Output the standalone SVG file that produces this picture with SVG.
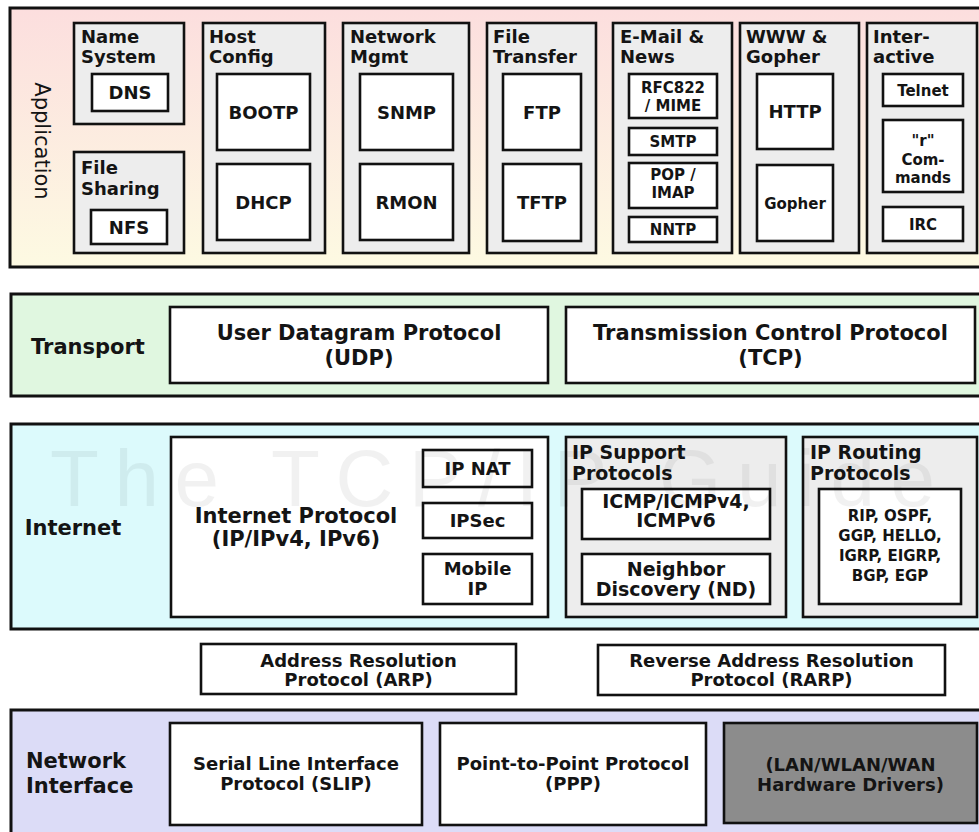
<svg xmlns="http://www.w3.org/2000/svg" width="979" height="832" viewBox="0 0 979 832">
<defs>
<linearGradient id="appGrad" x1="0" y1="0" x2="0" y2="1">
<stop offset="0" stop-color="#fcdede"/>
<stop offset="1" stop-color="#fdfae2"/>
</linearGradient>
</defs>
<style>
.layer{stroke:#111;stroke-width:3}
.grp{fill:#ededed;stroke:#111;stroke-width:2.6}
.box{fill:#fff;stroke:#111;stroke-width:2.6}
.hw{fill:#8c8c8c;stroke:#111;stroke-width:2.6}
text{font-family:"DejaVu Sans",Verdana,sans-serif;font-weight:bold;fill:#141414}
.c{text-anchor:middle}
.s21{font-size:21px}
.s19{font-size:19px}
.s18{font-size:18px}
.s15{font-size:15px}
.wm{font-family:"Liberation Sans",Arial,sans-serif;font-weight:normal;font-size:80px;fill:#000;opacity:0.05}
</style>
<rect width="979" height="832" fill="#fff"/>

<g id="layer-application">
<rect class="layer" x="10" y="8" width="985" height="259" fill="url(#appGrad)"/>
<text transform="translate(35,141) rotate(90)" x="0" y="0" class="c" style="font-size:21px;font-weight:normal">Application</text>
</g>

<g id="grp-name-system">
<rect class="grp" x="74" y="23" width="110" height="101"/>
<text class="s18" x="81" y="43">Name</text>
<text class="s18" x="81" y="63">System</text>
</g>
<g id="node-dns"><rect class="box" x="92" y="74" width="76" height="37"/><text class="s18 c" x="130" y="99">DNS</text></g>

<g id="grp-file-sharing">
<rect class="grp" x="74" y="152" width="110" height="101"/>
<text class="s18" x="81" y="174">File</text>
<text class="s18" x="81" y="195">Sharing</text>
</g>
<g id="node-nfs"><rect class="box" x="91" y="210" width="76" height="34"/><text class="s18 c" x="129" y="233.5">NFS</text></g>

<g id="grp-host-config">
<rect class="grp" x="203" y="23" width="122" height="230"/>
<text class="s18" x="209" y="43">Host</text>
<text class="s18" x="209" y="63">Config</text>
</g>
<g id="node-bootp"><rect class="box" x="217" y="74" width="93" height="76"/><text class="s18 c" x="263.5" y="118.5">BOOTP</text></g>
<g id="node-dhcp"><rect class="box" x="217" y="164" width="93" height="76"/><text class="s18 c" x="263.5" y="208.5">DHCP</text></g>

<g id="grp-network-mgmt">
<rect class="grp" x="343" y="23" width="126" height="230"/>
<text class="s18" x="350" y="43">Network</text>
<text class="s18" x="350" y="63">Mgmt</text>
</g>
<g id="node-snmp"><rect class="box" x="360" y="74" width="93" height="76"/><text class="s18 c" x="406.5" y="118.5">SNMP</text></g>
<g id="node-rmon"><rect class="box" x="360" y="164" width="93" height="76"/><text class="s18 c" x="406.5" y="208.5">RMON</text></g>

<g id="grp-file-transfer">
<rect class="grp" x="487" y="23" width="109" height="230"/>
<text class="s18" x="493" y="43">File</text>
<text class="s18" x="493" y="63">Transfer</text>
</g>
<g id="node-ftp"><rect class="box" x="503" y="74" width="78" height="76"/><text class="s18 c" x="542" y="118.5">FTP</text></g>
<g id="node-tftp"><rect class="box" x="503" y="164" width="78" height="77"/><text class="s18 c" x="542" y="209">TFTP</text></g>

<g id="grp-email-news">
<rect class="grp" x="613" y="23" width="119" height="230"/>
<text class="s18" x="620" y="43">E-Mail &amp;</text>
<text class="s18" x="620" y="63">News</text>
</g>
<g id="node-rfc822"><rect class="box" x="629" y="74" width="88" height="44"/><text class="s15 c" x="673" y="93">RFC822</text><text class="s15 c" x="673" y="111">/ MIME</text></g>
<g id="node-smtp"><rect class="box" x="629" y="128" width="88" height="27"/><text class="s15 c" x="673" y="147">SMTP</text></g>
<g id="node-pop-imap"><rect class="box" x="629" y="163" width="88" height="45"/><text class="s15 c" x="673" y="180">POP /</text><text class="s15 c" x="673" y="198">IMAP</text></g>
<g id="node-nntp"><rect class="box" x="629" y="217" width="88" height="25"/><text class="s15 c" x="673" y="235">NNTP</text></g>

<g id="grp-www-gopher">
<rect class="grp" x="740" y="23" width="119" height="230"/>
<text class="s18" x="746" y="43">WWW &amp;</text>
<text class="s18" x="746" y="63">Gopher</text>
</g>
<g id="node-http"><rect class="box" x="757" y="74" width="76" height="75"/><text class="s18 c" x="795" y="118">HTTP</text></g>
<g id="node-gopher"><rect class="box" x="757" y="165" width="76" height="76"/><text class="s15 c" x="795" y="208.5">Gopher</text></g>

<g id="grp-interactive">
<rect class="grp" x="867" y="23" width="110" height="230"/>
<text class="s18" x="873" y="43">Inter-</text>
<text class="s18" x="873" y="63">active</text>
</g>
<g id="node-telnet"><rect class="box" x="883" y="74" width="80" height="32"/><text class="s15 c" x="923" y="96">Telnet</text></g>
<g id="node-r-commands"><rect class="box" x="883" y="120" width="80" height="72"/><text class="s15 c" x="923" y="146">"r"</text><text class="s15 c" x="923" y="165">Com-</text><text class="s15 c" x="923" y="183">mands</text></g>
<g id="node-irc"><rect class="box" x="883" y="207" width="80" height="34"/><text class="s15 c" x="923" y="229.5">IRC</text></g>

<g id="layer-transport">
<rect class="layer" x="11" y="294" width="985" height="102" fill="#e0f7e0"/>
<text class="s21 c" x="88" y="354">Transport</text>
</g>
<g id="node-udp"><rect class="box" x="170" y="307" width="378" height="76"/><text class="s21 c" x="359" y="340">User Datagram Protocol</text><text class="s21 c" x="359" y="365">(UDP)</text></g>
<g id="node-tcp"><rect class="box" x="566" y="307" width="409" height="76"/><text class="s21 c" x="770.5" y="340">Transmission Control Protocol</text><text class="s21 c" x="770.5" y="365">(TCP)</text></g>

<g id="layer-internet">
<rect class="layer" x="11" y="424" width="985" height="205" fill="#dcfafc"/>
<text class="s21 c" x="73" y="535">Internet</text>
</g>
<g id="node-ip">
<rect class="box" x="171" y="437" width="377" height="180"/>
<text class="s21 c" x="296" y="523">Internet Protocol</text>
<text class="s21 c" x="296" y="546">(IP/IPv4, IPv6)</text>
</g>
<g id="node-ip-nat"><rect class="box" x="423" y="450" width="109" height="37"/><text class="s18 c" x="477.5" y="475">IP NAT</text></g>
<g id="node-ipsec"><rect class="box" x="423" y="503" width="109" height="35"/><text class="s18 c" x="477.5" y="527">IPSec</text></g>
<g id="node-mobile-ip"><rect class="box" x="423" y="554" width="109" height="50"/><text class="s18 c" x="477.5" y="575">Mobile</text><text class="s18 c" x="477.5" y="595">IP</text></g>

<g id="grp-ip-support">
<rect class="grp" x="566" y="437" width="220" height="180"/>
<text class="s19" x="572" y="459">IP Support</text>
<text class="s19" x="572" y="480">Protocols</text>
</g>
<g id="node-icmp"><rect class="box" x="582" y="489" width="188" height="50"/><text class="s19 c" x="676" y="508">ICMP/ICMPv4,</text><text class="s19 c" x="676" y="527">ICMPv6</text></g>
<g id="node-nd"><rect class="box" x="582" y="554" width="188" height="50"/><text class="s19 c" x="676" y="576">Neighbor</text><text class="s19 c" x="676" y="596">Discovery (ND)</text></g>

<g id="grp-ip-routing">
<rect class="grp" x="803" y="437" width="174" height="180"/>
<text class="s19" x="810" y="459">IP Routing</text>
<text class="s19" x="810" y="480">Protocols</text>
</g>
<g id="node-routing-list">
<rect class="box" x="819" y="489" width="142" height="115"/>
<text class="s15 c" x="890" y="521">RIP, OSPF,</text>
<text class="s15 c" x="890" y="541">GGP, HELLO,</text>
<text class="s15 c" x="890" y="561">IGRP, EIGRP,</text>
<text class="s15 c" x="890" y="581">BGP, EGP</text>
</g>

<g id="node-arp"><rect class="box" x="201" y="644" width="315" height="50"/><text class="s18 c" x="358.5" y="667">Address Resolution</text><text class="s18 c" x="358.5" y="686">Protocol (ARP)</text></g>
<g id="node-rarp"><rect class="box" x="598" y="645" width="347" height="50"/><text class="s18 c" x="771.5" y="667">Reverse Address Resolution</text><text class="s18 c" x="771.5" y="686">Protocol (RARP)</text></g>

<g id="layer-network-interface">
<rect class="layer" x="11" y="710" width="985" height="140" fill="#dcdcf7"/>
<text class="s21" x="26" y="768">Network</text>
<text class="s21" x="26" y="793">Interface</text>
</g>
<g id="node-slip"><rect class="box" x="170" y="723" width="252" height="102"/><text class="s18 c" x="296" y="770">Serial Line Interface</text><text class="s18 c" x="296" y="790">Protocol (SLIP)</text></g>
<g id="node-ppp"><rect class="box" x="440" y="723" width="266" height="102"/><text class="s18 c" x="573" y="770">Point-to-Point Protocol</text><text class="s18 c" x="573" y="790">(PPP)</text></g>
<g id="node-hardware"><rect class="hw" x="724" y="723" width="253" height="100"/><text class="s18 c" x="850.5" y="771">(LAN/WLAN/WAN</text><text class="s18 c" x="850.5" y="791">Hardware Drivers)</text></g>

<text class="wm" x="50" y="506" textLength="885" lengthAdjust="spacing">The TCP/IP Guide</text>
</svg>
